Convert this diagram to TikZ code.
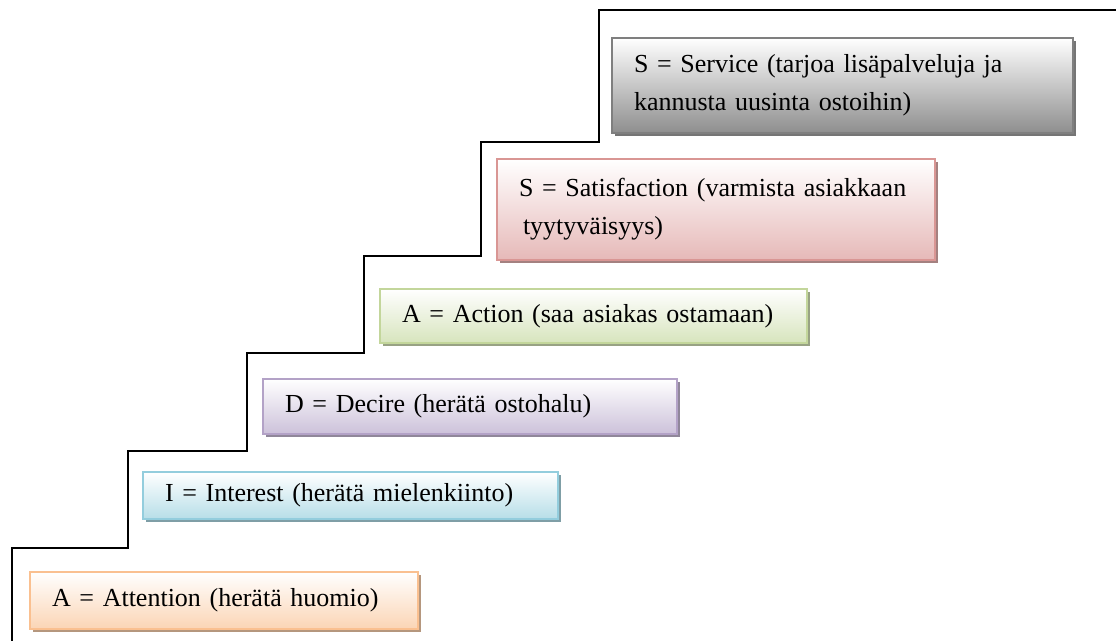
\documentclass[tikz,border=0pt]{standalone}
\usepackage{fontspec}
\setmainfont{Liberation Serif}
\usetikzlibrary{
  shadows
}

\definecolor{attline}{HTML}{FAC090}
\definecolor{attfill}{HTML}{FBD5B5}
\definecolor{intline}{HTML}{93CDDD}
\definecolor{intfill}{HTML}{B7DEE8}
\definecolor{decline}{HTML}{B3A2C7}
\definecolor{decfill}{HTML}{CCC1DA}
\definecolor{actline}{HTML}{C3D69B}
\definecolor{actfill}{HTML}{D7E4BD}
\definecolor{satline}{HTML}{D99694}
\definecolor{satfill}{HTML}{E6B9B8}
\definecolor{serline}{HTML}{7F7F7F}
\definecolor{serfill}{HTML}{8E8E8E}

\begin{document}
\begin{tikzpicture}[x=0.5pt,y=-0.5pt,
  stair/.style={line width=1pt,black},
  stepbox/.style 2 args={
    draw=#1, line width=1.1pt,
    top color=white, bottom color=#2,
    drop shadow={shadow xshift=1.6pt, shadow yshift=-1.6pt,
      fill=#1!65!black!80, opacity=1},
    inner xsep=11pt, inner ysep=0pt, align=left,
    font=\fontsize{13pt}{19pt}\selectfont
  }
]
\useasboundingbox (0,0) rectangle (1117,641);

\draw[stair] (12,641) -- (12,548) -- (128,548) -- (128,451) -- (247,451)
  -- (247,353) -- (364,353) -- (364,256) -- (481,256) -- (481,142)
  -- (599,142) -- (599,10) -- (1116,10);

\node[stepbox={attline}{attfill}, minimum width=194pt, minimum height=28.5pt,
  text width=172pt] (attention) at (224,600.5) {A = Attention (herätä huomio)};
\node[stepbox={intline}{intfill}, minimum width=207.5pt, minimum height=23.5pt,
  text width=185.5pt] (interest) at (350.5,495.5) {I = Interest (herätä mielenkiinto)};
\node[stepbox={decline}{decfill}, minimum width=207pt, minimum height=27.5pt,
  text width=185pt] (decire) at (470,406.5) {D = Decire (herätä ostohalu)};
\node[stepbox={actline}{actfill}, minimum width=213.5pt, minimum height=27pt,
  text width=191.5pt] (action) at (593.5,316) {A = Action (saa asiakas ostamaan)};
\node[stepbox={satline}{satfill}, minimum width=219pt, minimum height=50.5pt,
  text width=197pt] (satisfaction) at (716,209.5)
  {S = Satisfaction (varmista asiakkaan\\\hspace*{2pt}tyytyväisyys)};
\node[stepbox={serline}{serfill}, minimum width=230.5pt, minimum height=47.5pt,
  text width=208.5pt] (service) at (842.5,85.5)
  {S = Service (tarjoa lisäpalveluja ja\\kannusta uusinta ostoihin)};
\end{tikzpicture}
\end{document}
